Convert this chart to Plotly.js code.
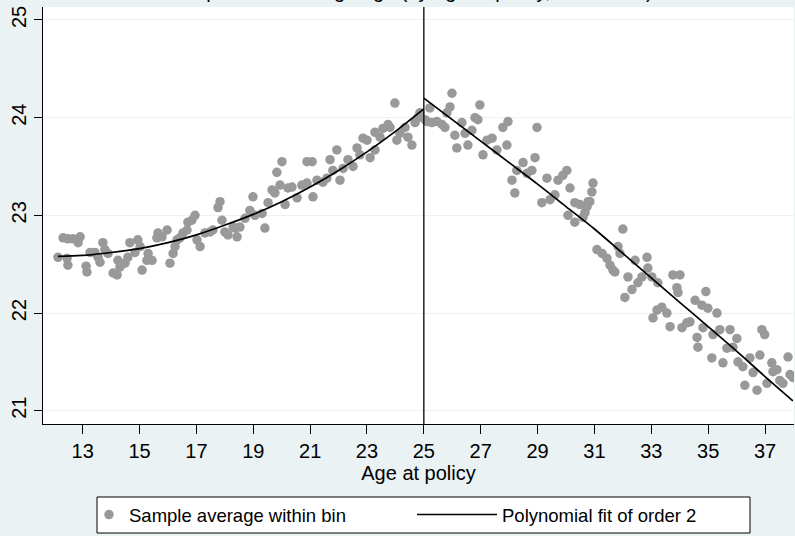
<!DOCTYPE html>
<html><head><meta charset="utf-8">
<script src="https://cdn.plot.ly/plotly-3.0.1.min.js"></script>
<style>html,body{margin:0;padding:0;background:#eaf2f3}</style>
</head><body><div id="chart" style="width:795px;height:536px"></div>
<script>
const leftAge = [12.13,12.31,12.45,12.48,12.48,12.66,12.84,12.91,13.12,13.15,
13.26,13.43,13.54,13.61,13.71,13.78,13.89,14.07,14.21,14.24,
14.31,14.49,14.59,14.66,14.84,14.94,15.02,15.09,15.26,15.30,
15.44,15.61,15.65,15.79,15.97,16.07,16.18,16.25,16.32,16.42,
16.53,16.67,16.70,16.84,16.95,17.02,17.13,17.30,17.48,17.58,
17.76,17.83,17.90,18.00,18.11,18.29,18.36,18.43,18.53,18.71,
18.88,18.99,19.06,19.31,19.41,19.52,19.66,19.76,19.83,19.94,
20.01,20.12,20.22,20.36,20.54,20.71,20.89,20.89,21.07,21.10,
21.24,21.45,21.59,21.70,21.80,21.94,22.05,22.16,22.33,22.51,
22.65,22.75,22.86,23.00,23.11,23.28,23.28,23.46,23.56,23.74,
23.81,23.98,24.05,24.16,24.34,24.44,24.58,24.69,24.79,24.86];
const leftVal = [22.57,22.77,22.56,22.76,22.49,22.76,22.72,22.78,22.48,22.42,
22.62,22.62,22.57,22.52,22.72,22.65,22.61,22.41,22.39,22.54,
22.47,22.51,22.57,22.72,22.62,22.75,22.68,22.44,22.54,22.61,
22.54,22.77,22.82,22.78,22.85,22.51,22.61,22.68,22.75,22.77,
22.82,22.85,22.93,22.95,23.00,22.75,22.68,22.82,22.83,22.85,
23.08,23.14,22.95,22.83,22.80,22.88,22.87,22.78,22.88,22.97,
23.05,23.19,23.00,23.02,22.87,23.13,23.26,23.23,23.44,23.31,
23.55,23.11,23.28,23.29,23.18,23.31,23.33,23.55,23.55,23.19,
23.36,23.34,23.38,23.57,23.46,23.67,23.36,23.48,23.57,23.50,
23.69,23.62,23.79,23.77,23.59,23.67,23.85,23.80,23.89,23.93,
23.90,24.15,23.77,23.84,23.90,23.80,23.72,23.95,24.00,24.05];
const rightAge = [25.04,25.11,25.21,25.28,25.46,25.64,25.74,25.81,25.92,25.99,
26.09,26.16,26.34,26.45,26.55,26.69,26.80,26.90,26.97,27.08,
27.22,27.40,27.57,27.78,27.92,27.96,28.10,28.20,28.27,28.49,
28.63,28.80,28.91,28.98,29.15,29.33,29.44,29.61,29.72,29.89,
30.03,30.07,30.14,30.31,30.31,30.49,30.60,30.67,30.74,30.78,
30.84,30.91,30.95,31.09,31.27,31.44,31.55,31.65,31.72,31.83,
31.90,32.00,32.07,32.18,32.32,32.43,32.53,32.67,32.85,32.88,
33.02,33.06,33.20,33.23,33.37,33.55,33.66,33.76,33.90,33.94,
34.01,34.08,34.25,34.36,34.54,34.61,34.64,34.78,34.82,34.92,
34.99,35.13,35.17,35.31,35.41,35.52,35.66,35.77,35.87,36.01,
36.05,36.22,36.29,36.47,36.58,36.72,36.82,36.89,36.99,37.07,
37.24,37.28,37.42,37.52,37.63,37.81,37.88,37.98];
const rightVal = [23.98,23.96,24.10,23.95,23.96,23.93,23.90,24.05,24.11,24.25,
23.82,23.69,23.95,23.84,23.72,23.87,24.00,23.98,24.13,23.62,
23.77,23.79,23.67,23.90,23.72,23.96,23.36,23.23,23.46,23.54,
23.43,23.46,23.59,23.90,23.13,23.38,23.16,23.21,23.36,23.41,
23.46,23.00,23.28,23.13,22.93,23.11,22.98,23.03,23.09,23.14,
23.14,23.24,23.33,22.65,22.61,22.56,22.49,22.44,22.42,22.68,
22.61,22.86,22.16,22.37,22.24,22.54,22.31,22.37,22.57,22.46,
22.37,21.95,22.03,22.31,22.06,22.00,21.86,22.39,22.26,22.21,
22.39,21.85,21.90,21.91,22.13,21.75,21.65,22.08,21.85,22.22,
22.05,21.54,21.78,22.00,21.83,21.49,21.64,21.83,21.65,21.74,
21.50,21.45,21.26,21.54,21.39,21.21,21.57,21.83,21.78,21.28,
21.49,21.40,21.42,21.31,21.28,21.55,21.37,21.34];
const leftFitAge = [12.13,13,14,15,16,17,18,19,20,21,22,23,24,25];
const leftFitVal = [22.58,22.59,22.62,22.66,22.72,22.80,22.90,23.01,23.14,23.29,23.46,23.65,23.86,24.09];
const rightFitAge = [25,26,27,28,29,30,31,32,33,34,35,36,37,37.98];
const rightFitVal = [24.20,23.98,23.76,23.54,23.32,23.09,22.86,22.61,22.36,22.11,21.86,21.61,21.35,21.10];
const cutoff = 25;
const xTicks = [13,15,17,19,21,23,25,27,29,31,33,35,37];
const yTicks = [21,22,23,24,25];
const titleText = "Impact on marriage age (by age at policy, all women)";
const xTitle = "Age at policy";
const scatterName = "Sample average within bin";
const fitName = "Polynomial fit of order 2";

const FONT = "Liberation Sans, Arial, sans-serif";
const W = 795, H = 536;

const traces = [
  {x: leftAge.concat(rightAge), y: leftVal.concat(rightVal), type: 'scatter', mode: 'markers',
   name: scatterName, legend: 'legend',
   marker: {color: '#999999', size: 9.5, line: {width: 0}}},
  {x: leftFitAge, y: leftFitVal, type: 'scatter', mode: 'lines', name: fitName, legend: 'legend2',
   line: {color: '#000000', width: 1.7, shape: 'spline'}},
  {x: rightFitAge, y: rightFitVal, type: 'scatter', mode: 'lines', name: fitName, legend: 'legend2',
   showlegend: false, line: {color: '#000000', width: 1.7, shape: 'spline'}}
];

const layout = {
  width: W, height: H,
  paper_bgcolor: '#eaf2f3', plot_bgcolor: '#ffffff',
  margin: {l: 43, r: 1, t: 7, b: 112},
  font: {family: FONT, color: '#000000', size: 19},
  annotations: [
    {text: titleText, xref: 'paper', yref: 'paper', x: 0.5, y: 1, xanchor: 'center', yanchor: 'bottom',
     yshift: 3, showarrow: false, font: {family: FONT, size: 20, color: '#000'}}
  ],
  xaxis: {range: [11.604, 38.02], tickvals: xTicks, ticks: 'outside', ticklen: 9, tickwidth: 1,
          tickcolor: '#000', showline: true, linecolor: '#000', linewidth: 1, mirror: false,
          showgrid: false, zeroline: false, tickfont: {size: 20},
          title: {text: xTitle, font: {size: 20}, standoff: 0}},
  yaxis: {range: [20.864, 25.133], tickvals: yTicks, ticks: 'outside', ticklen: 8, tickwidth: 1,
          tickcolor: '#000', showline: true, linecolor: '#000', linewidth: 1, mirror: false,
          showgrid: true, gridcolor: '#eaf2f3', gridwidth: 1, zeroline: false,
          tickangle: -90, tickfont: {size: 20}},
  shapes: [
    {type: 'rect', xref: 'paper', yref: 'paper', layer: 'below',
     x0: (97-43)/751, x1: (750-43)/751, y0: (424-497)/417, y1: (424-533)/417,
     fillcolor: '#ffffff', line: {color: '#000', width: 1}},
    {type: 'line', xref: 'x', yref: 'paper', x0: cutoff, x1: cutoff, y0: 0, y1: 1,
     line: {color: '#000', width: 1.3}}
  ],
  showlegend: true,
  legend: {orientation: 'h', xref: 'container', yref: 'container', x: 89/W, xanchor: 'left',
           y: 1 - 496/H, yanchor: 'top', bgcolor: 'rgba(0,0,0,0)', borderwidth: 0,
           font: {size: 18.5}},
  legend2: {orientation: 'h', xref: 'container', yref: 'container', x: 412/W, xanchor: 'left',
           y: 1 - 496/H, yanchor: 'top', bgcolor: 'rgba(0,0,0,0)', borderwidth: 0,
           itemwidth: 80, font: {size: 18.5}}
};

Plotly.newPlot('chart', traces, layout, {displayModeBar: false, staticPlot: true});
</script></body></html>
